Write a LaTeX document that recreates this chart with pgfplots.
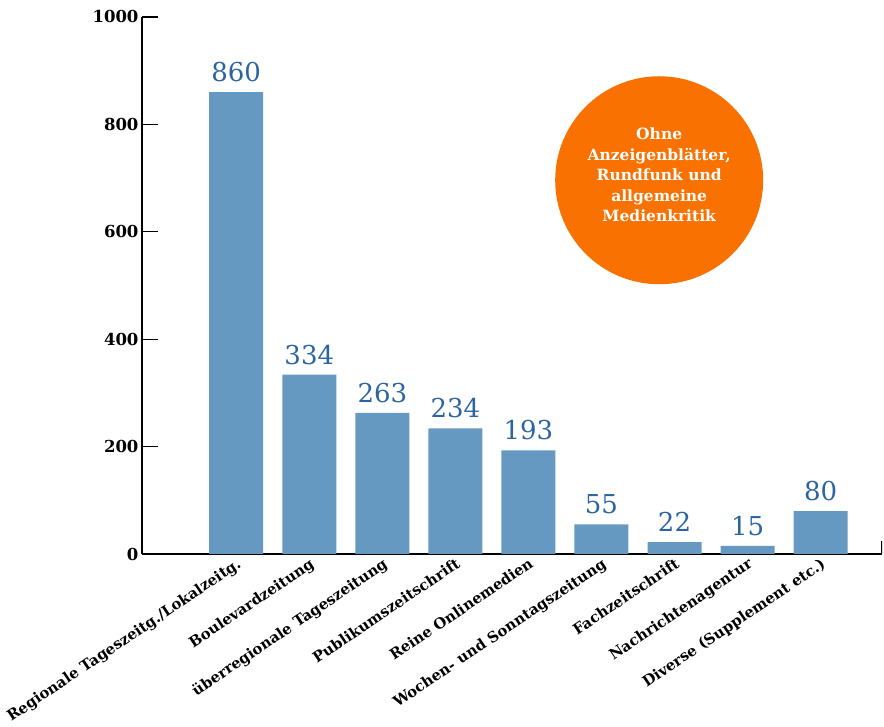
\documentclass[border=0pt]{standalone}
\usepackage{fontspec}
\setmainfont{DejaVu Serif}
\usepackage{pgfplots}
\pgfplotsset{compat=1.18}

\definecolor{barblue}{HTML}{6699C2}
\definecolor{valblue}{HTML}{2C64A2}
\definecolor{circorange}{HTML}{F97100}

\begin{document}
\begin{tikzpicture}
  \begin{axis}[
      scale only axis,
      width=740pt, height=537pt,
      ybar, bar width=54pt,
      xmin=-1.29, xmax=8.84,
      ymin=0, ymax=1000,
      enlargelimits=false,
      axis lines*=left,
      axis line style={black, line width=1.3pt},
      ytick={0,200,...,1000},
      ytick pos=left,
      tick align=inside,
      major tick length=16pt,
      ytick style={black, line width=1.3pt},
      xtick={0,...,8},
      xtick style={draw=none},
      xticklabels={Regionale Tageszeitg./Lokalzeitg., Boulevardzeitung,
        überregionale Tageszeitung, Publikumszeitschrift, Reine Onlinemedien,
        Wochen- und Sonntagszeitung, Fachzeitschrift, Nachrichtenagentur,
        Diverse (Supplement etc.)},
      xticklabel style={rotate=34, anchor=north east, inner sep=2pt,
        font=\bfseries\fontsize{14.8}{15}\selectfont},
      yticklabel style={font=\bfseries\fontsize{16.5}{17}\selectfont},
      /pgf/number format/assume math mode=true,
      /pgf/number format/1000 sep={},
      nodes near coords,
      every node near coord/.append style={anchor=south, inner sep=0pt,
        yshift=10pt, text=valblue, font=\fontsize{26}{26}\selectfont},
    ]
    \addplot[fill=barblue, draw=none] coordinates {
      (0,860) (1,334) (2,263) (3,234) (4,193) (5,55) (6,22) (7,15) (8,80)
    };
    % kleiner Abschlussstrich rechts an der x-Achse
    \draw[black, line width=1.3pt] (rel axis cs:1,0) -- ++(0pt,13pt);
    \node[circle, fill=circorange, minimum size=208pt, inner sep=0pt]
      at (axis cs:5.79,696) {};
    \node[text=white, align=center, inner sep=0pt,
      font=\bfseries\fontsize{15.5}{20.5}\selectfont]
      at (axis cs:5.79,706) {Ohne\\Anzeigenblätter,\\Rundfunk und\\allgemeine\\Medienkritik};
    \coordinate (O) at (rel axis cs:0,0);
  \end{axis}
  \pgfresetboundingbox
  \path[use as bounding box] ([shift={(-142pt,-173pt)}]O) rectangle ([shift={(742pt,554pt)}]O);
\end{tikzpicture}
\end{document}
